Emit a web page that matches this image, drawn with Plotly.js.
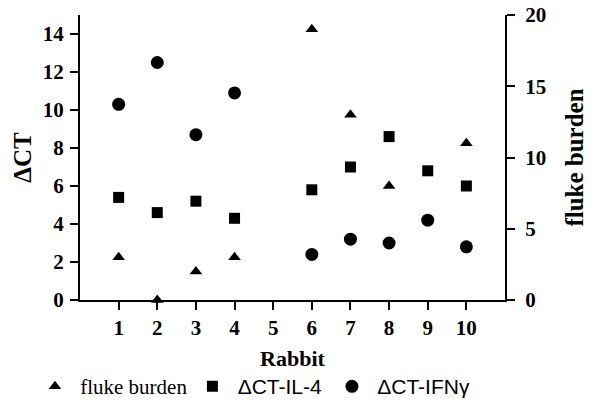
<!DOCTYPE html>
<html><head><meta charset="utf-8">
<script src="https://cdn.plot.ly/plotly-3.0.1.min.js"></script>
<style>html,body{margin:0;padding:0;background:#fff}#c{width:600px;height:404px}</style>
</head><body><div id="c"></div>
<script>
const rabbits = [1, 2, 3, 4, 6, 7, 8, 9, 10];
const xTicks = [1, 2, 3, 4, 5, 6, 7, 8, 9, 10];
const flukeBurden = [3, 0, 2, 3, 19, 13, 8, null, 11];
const dctIL4 = [5.4, 4.6, 5.2, 4.3, 5.8, 7.0, 8.6, 6.8, 6.0];
const dctIFNg = [10.3, 12.5, 8.7, 10.9, 2.4, 3.2, 3.0, 4.2, 2.8];

const serif = 'Liberation Serif, Times New Roman, serif';
const nb = '\u00a0';

const traces = [
  {x: rabbits, y: flukeBurden, yaxis: 'y2', type: 'scatter', mode: 'markers', cliponaxis: false,
   name: nb + '<span style="font-family:Liberation Serif">fluke burden</span>',
   marker: {symbol: 'triangle-up', size: 11, color: '#000'}},
  {x: rabbits, y: dctIL4, type: 'scatter', mode: 'markers', cliponaxis: false,
   name: nb + '<span style="font-family:Liberation Sans">ΔCT-IL-4</span>' + nb,
   marker: {symbol: 'square', size: 11, color: '#000'}},
  {x: rabbits, y: dctIFNg, type: 'scatter', mode: 'markers', cliponaxis: false,
   name: nb + '<span style="font-family:Liberation Sans">ΔCT-IFNγ</span>',
   marker: {symbol: 'circle', size: 13, color: '#000'}}
];

const axisCommon = {
  showgrid: false, zeroline: false, showline: true, linecolor: '#000', linewidth: 2,
  ticks: 'outside', ticklen: 8, tickwidth: 2, tickcolor: '#000', automargin: false,
  tickfont: {family: serif, size: 21, color: '#000', weight: 'bold'}
};

const layout = {
  width: 600, height: 404,
  margin: {l: 80, r: 95, t: 15, b: 104, autoexpand: false},
  paper_bgcolor: '#fff', plot_bgcolor: '#fff',
  showlegend: true,
  legend: {orientation: 'h', x: -0.106, xanchor: 'left',
           y: -0.304, yanchor: 'middle',
           font: {family: serif, size: 21, color: '#000'}, itemwidth: 30},
  xaxis: Object.assign({}, axisCommon, {range: [0, 11], tickvals: xTicks,
    title: {text: 'Rabbit', font: {family: serif, size: 22, color: '#000', weight: 'bold'}, standoff: 11}}),
  yaxis: Object.assign({}, axisCommon, {range: [0, 15], tickvals: [0,2,4,6,8,10,12,14], ticklabelstandoff: 2,
    title: {text: 'ΔCT', font: {family: serif, size: 25, color: '#000', weight: 'bold'}, standoff: 4}}),
  yaxis2: Object.assign({}, axisCommon, {range: [0, 20], tickvals: [0,5,10,15,20], overlaying: 'y', side: 'right',
    ticklabelstandoff: 6,
    title: {text: 'fluke burden', font: {family: serif, size: 25, color: '#000', weight: 'bold'}, standoff: 20}})
};

Plotly.newPlot('c', traces, layout, {displayModeBar: false, staticPlot: true});
</script>
</body></html>
